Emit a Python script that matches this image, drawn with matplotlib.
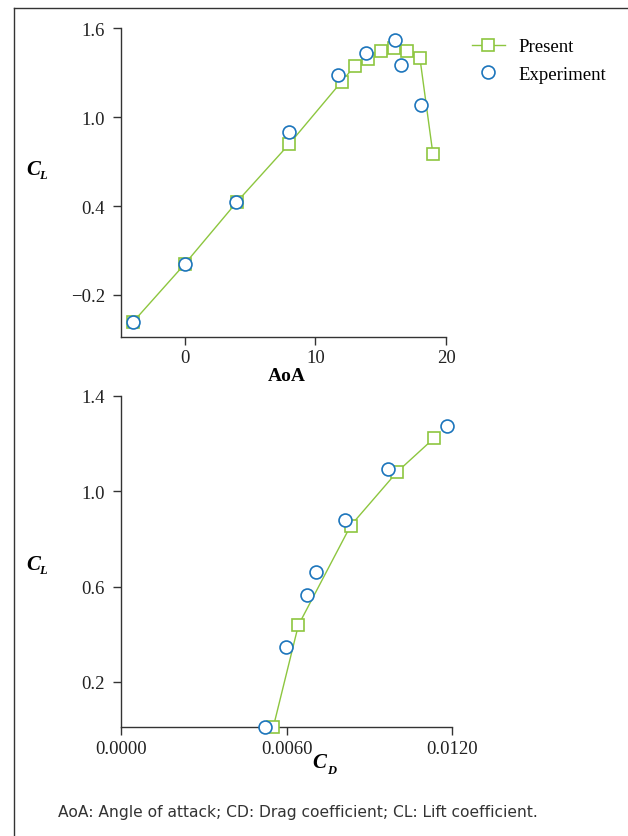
import matplotlib
matplotlib.use("Agg")
import matplotlib.pyplot as plt
from matplotlib.lines import Line2D

# ---- data ----
aoa_present = [-4, 0, 4, 8, 12, 13, 14, 15, 16, 17, 18, 19]
cl_present = [-0.385, 0.01, 0.43, 0.82, 1.24, 1.345, 1.39, 1.446, 1.466, 1.446, 1.40, 0.75]
aoa_exp = [-4, 0, 3.9, 7.94, 11.75, 13.85, 16.12, 16.53, 18.08]
cl_exp = [-0.385, 0.01, 0.43, 0.90, 1.286, 1.435, 1.518, 1.349, 1.079]

cd_present = [0.00552, 0.00643, 0.00832, 0.00999, 0.01134]
clp_present = [0.01, 0.438, 0.855, 1.079, 1.222]
cd_exp = [0.00522, 0.00598, 0.00674, 0.00706, 0.00812, 0.00966, 0.0118]
clp_exp = [0.01, 0.347, 0.565, 0.662, 0.880, 1.093, 1.273]

top_xticks = [0, 10, 20]
top_yticks = [-0.2, 0.4, 1.0, 1.6]
bot_xticks = [0.0, 0.006, 0.012]
bot_yticks = [0.2, 0.6, 1.0, 1.4]

GREEN = "#8DC63F"
BLUE = "#1C75BC"
SPINE = "#333333"
SERIF = "Liberation Serif"

W, H = 628, 837
fig = plt.figure(figsize=(W / 100, H / 100), dpi=100)


def ax_rect(x0, y0, x1, y1):
    return [x0 / W, 1 - y1 / H, (x1 - x0) / W, (y1 - y0) / H]


def style(ax):
    for s in ("top", "right"):
        ax.spines[s].set_visible(False)
    for s in ("left", "bottom"):
        ax.spines[s].set_color(SPINE)
        ax.spines[s].set_linewidth(1.0)
    ax.tick_params(direction="out", length=5.5, width=1.0, color=SPINE,
                   labelsize=13.5, labelcolor="#222222")
    ax.tick_params(axis="x", pad=3.5)
    ax.tick_params(axis="y", pad=6)
    for lab in ax.get_xticklabels() + ax.get_yticklabels():
        lab.set_family(SERIF)


def draw(ax, xp, yp, xe, ye):
    ax.plot(xp, yp, color=GREEN, lw=1.0, marker="s", ms=8.2, mfc="white",
            mec=GREEN, mew=1.2, clip_on=False, zorder=3, label="Present")
    ax.plot(xe, ye, ls="none", marker="o", ms=9.3, mfc="white",
            mec=BLUE, mew=1.2, clip_on=False, zorder=4, label="Experiment")


# Top axes
ax1 = fig.add_axes(ax_rect(121, 29.3, 446, 337.7))
draw(ax1, aoa_present, cl_present, aoa_exp, cl_exp)
ax1.set_xlim(-4.9, 20)
ax1.set_ylim(-0.482, 1.6)
ax1.set_xticks(top_xticks)
ax1.set_yticks(top_yticks)
ax1.set_yticklabels(["\u22120.2", "0.4", "1.0", "1.6"])
style(ax1)

# Bottom axes
ax2 = fig.add_axes(ax_rect(120.7, 396.7, 452.3, 728.3))
draw(ax2, cd_present, clp_present, cd_exp, clp_exp)
ax2.set_xlim(0, 0.012)
ax2.set_ylim(0.01, 1.4)
ax2.set_xticks(bot_xticks)
ax2.set_xticklabels(["%.4f" % v for v in bot_xticks])
ax2.set_yticks(bot_yticks)
ax2.set_yticklabels(["%.1f" % v for v in bot_yticks])
style(ax2)

# Legend
handles, labels = ax1.get_legend_handles_labels()
leg = fig.legend(handles, labels, loc="upper left",
                 bbox_to_anchor=(472 / W, 1 - 39 / H), frameon=False,
                 borderpad=0, borderaxespad=0, handlelength=1.75,
                 handletextpad=0.75, labelspacing=0.55,
                 prop={"family": SERIF, "size": 13.5})

# Axis labels


def sub_label(x, y, main, sub, dx, dy):
    fig.text(x / W, 1 - y / H, main, family=SERIF, style="italic",
             weight="bold", size=15, va="baseline", ha="left")
    fig.text((x + dx) / W, 1 - (y + dy) / H, sub, family=SERIF,
             style="italic", weight="bold", size=9, va="baseline", ha="left")


sub_label(26, 175, "C", "L", 13.5, 4)
sub_label(26, 570, "C", "L", 13.5, 4)
sub_label(312, 768, "C", "D", 15, 6)

fig.text(286.5 / W, 1 - 377 / H, "AoA", family=SERIF, weight="bold",
         size=14, ha="center", va="center")

# Caption
fig.text(58 / W, 1 - 813 / H,
         "AoA: Angle of attack; CD: Drag coefficient; CL: Lift coefficient.",
         family=["Liberation Sans Narrow", "DejaVu Sans"], size=11.2,
         color="#333333", ha="left", va="center")

# Frame lines (left and top)
fig.add_artist(Line2D([13.5 / W, 13.5 / W], [0, 1 - 9.3 / H],
                      transform=fig.transFigure, color=SPINE, lw=1.0))
fig.add_artist(Line2D([13.5 / W, 1], [1 - 9.3 / H, 1 - 9.3 / H],
                      transform=fig.transFigure, color=SPINE, lw=1.0))

fig.savefig("out.png", dpi=100, facecolor="white")
